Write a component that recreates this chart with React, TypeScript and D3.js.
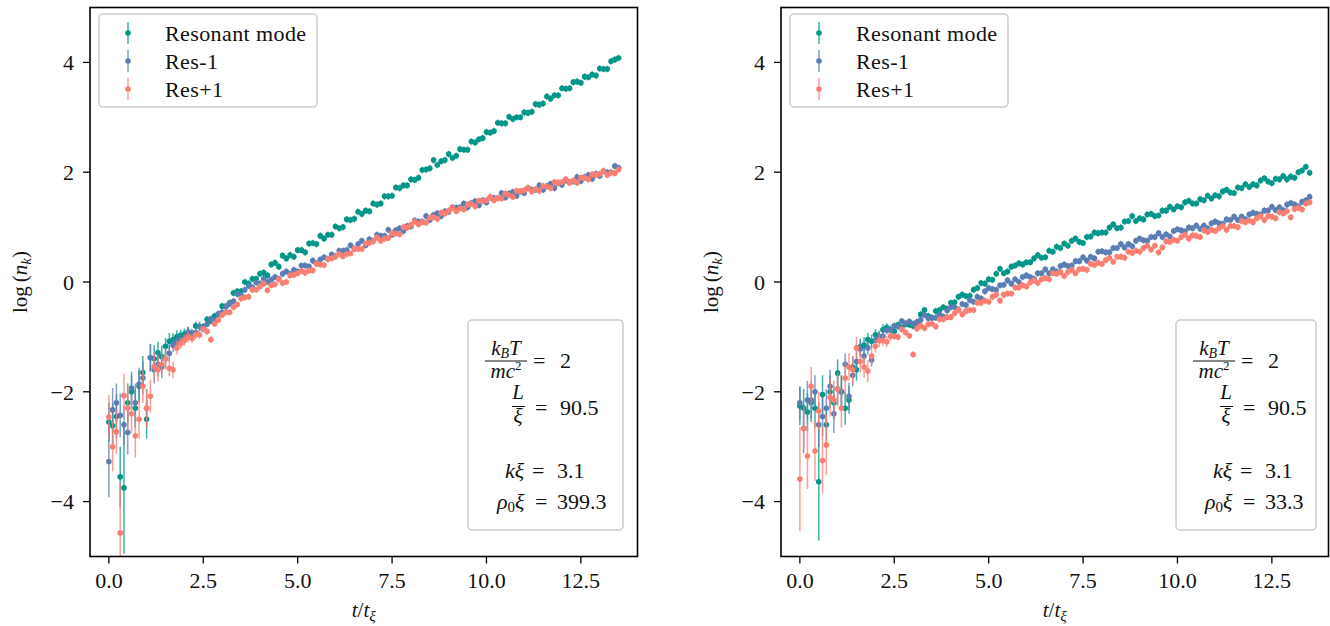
import React from "react";
import * as d3 from "d3";

// ---------- data ----------
const T_STEP = 0.1;
const N_POINTS = 136;
const TIMES: number[] = d3.range(N_POINTS).map((i) => +(i * T_STEP).toFixed(1));

const X_TICKS = [0, 2.5, 5, 7.5, 10, 12.5];
const Y_TICKS = [-4, -2, 0, 2, 4];
const X_DOMAIN = [-0.5, 14];
const Y_DOMAIN = [-5, 5];

const SERIES_NAMES = ["Resonant mode", "Res-1", "Res+1"];
const COLORS = ["#009688", "#5a7db4", "#fa7f72"];

// Left panel (rho0 xi = 399.3)
const LEFT_RES = [
  -2.55, -2.62, -2.45, -3.55, -3.75, -2.2, -2.0, -2.3, -1.9, -1.65,
  -2.5, -1.38, -1.4, -1.29, -1.36, -1.17, -1.08, -1.05, -1.0, -0.97,
  -0.95, -0.92, -0.95, -0.8, -0.81, -0.81, -0.68, -0.71, -0.62, -0.59,
  -0.44, -0.45, -0.38, -0.2, -0.17, -0.17, 0.0, -0.03, 0.06, 0.06,
  0.15, 0.17, 0.12, 0.32, 0.35, 0.28, 0.48, 0.43, 0.49, 0.46,
  0.58, 0.58, 0.54, 0.7, 0.71, 0.69, 0.84, 0.79, 0.86, 0.86,
  1.01, 0.98, 1.0, 1.14, 1.13, 1.15, 1.28, 1.24, 1.3, 1.29,
  1.43, 1.41, 1.43, 1.56, 1.56, 1.57, 1.72, 1.71, 1.76, 1.76,
  1.87, 1.86, 1.9, 2.04, 2.05, 2.07, 2.22, 2.13, 2.2, 2.22,
  2.33, 2.26, 2.3, 2.42, 2.41, 2.41, 2.56, 2.54, 2.6, 2.62,
  2.73, 2.72, 2.75, 2.9, 2.89, 2.89, 3.01, 2.97, 3.0, 3.0,
  3.09, 3.08, 3.1, 3.24, 3.23, 3.25, 3.38, 3.34, 3.4, 3.4,
  3.53, 3.52, 3.53, 3.64, 3.65, 3.63, 3.74, 3.73, 3.78, 3.76,
  3.89, 3.88, 3.88, 4.02, 4.05, 4.08,
];
const LEFT_M1 = [
  -3.27, -2.33, -2.2, -2.43, -2.6, -2.74, -1.93, -2.2, -1.86, -1.75,
  -2.3, -1.38, -1.6, -1.5, -1.55, -1.4, -1.3, -1.15, -1.1, -1.05,
  -1.03, -0.91, -0.93, -0.92, -0.81, -0.86, -0.77, -0.67, -0.7, -0.58,
  -0.55, -0.44, -0.4, -0.35, -0.22, -0.24, -0.14, -0.07, -0.1, -0.01,
  -0.03, 0.06, 0.0, 0.04, 0.09, 0.06, 0.15, 0.19, 0.15, 0.22,
  0.19, 0.3, 0.3, 0.28, 0.39, 0.34, 0.41, 0.45, 0.42, 0.5,
  0.47, 0.57, 0.57, 0.58, 0.67, 0.6, 0.69, 0.75, 0.67, 0.78,
  0.75, 0.86, 0.84, 0.84, 0.95, 0.86, 0.94, 0.98, 0.93, 1.02,
  1.01, 1.12, 1.1, 1.1, 1.2, 1.13, 1.22, 1.25, 1.2, 1.29,
  1.28, 1.36, 1.35, 1.36, 1.43, 1.36, 1.44, 1.47, 1.4, 1.49,
  1.45, 1.54, 1.53, 1.53, 1.62, 1.54, 1.61, 1.64, 1.57, 1.65,
  1.62, 1.71, 1.68, 1.68, 1.76, 1.68, 1.75, 1.79, 1.71, 1.8,
  1.77, 1.85, 1.82, 1.83, 1.91, 1.84, 1.91, 1.95, 1.88, 1.97,
  1.93, 2.02, 2.0, 2.0, 2.11, 2.08,
];
const LEFT_P1 = [
  -2.46, -3.0, -2.73, -4.57, -2.07, -2.3, -2.4, -2.8, -2.5, -1.9,
  -2.3, -2.08, -1.54, -1.6, -1.5, -1.4, -1.57, -1.6, -1.2, -1.12,
  -1.06, -1.0, -1.03, -0.96, -0.96, -0.85, -0.9, -1.05, -0.76, -0.69,
  -0.6, -0.55, -0.55, -0.46, -0.41, -0.3, -0.28, -0.27, -0.14, -0.14,
  -0.08, -0.03, -0.15, -0.06, -0.04, 0.05, -0.02, 0.0, 0.12, 0.13,
  0.16, 0.2, 0.17, 0.21, 0.21, 0.33, 0.32, 0.31, 0.42, 0.43,
  0.46, 0.51, 0.47, 0.51, 0.52, 0.61, 0.6, 0.6, 0.7, 0.71,
  0.74, 0.81, 0.75, 0.79, 0.8, 0.89, 0.88, 0.87, 1.0, 0.99,
  1.04, 1.1, 1.05, 1.09, 1.08, 1.17, 1.18, 1.15, 1.26, 1.25,
  1.3, 1.35, 1.29, 1.34, 1.32, 1.41, 1.42, 1.38, 1.48, 1.47,
  1.49, 1.55, 1.49, 1.53, 1.52, 1.61, 1.58, 1.55, 1.66, 1.65,
  1.67, 1.71, 1.65, 1.69, 1.66, 1.75, 1.74, 1.71, 1.82, 1.81,
  1.82, 1.87, 1.81, 1.85, 1.81, 1.9, 1.9, 1.87, 1.96, 1.95,
  1.97, 2.02, 1.95, 1.99, 1.98, 2.05,
];

// Right panel (rho0 xi = 33.3)
const RIGHT_RES = [
  -2.26, -2.3, -2.37, -2.2, -2.3, -3.64, -2.05, -2.6, -2.0, -2.2,
  -1.66, -2.0, -2.3, -2.15, -1.55, -1.6, -1.18, -1.15, -1.05, -1.08,
  -0.96, -0.99, -0.87, -0.83, -0.87, -0.9, -0.78, -0.83, -0.77, -0.78,
  -0.8, -0.74, -0.59, -0.51, -0.62, -0.65, -0.53, -0.51, -0.46, -0.49,
  -0.38, -0.37, -0.27, -0.23, -0.26, -0.25, -0.14, -0.11, -0.02, -0.03,
  0.05, 0.04, 0.15, 0.24, 0.16, 0.19, 0.28, 0.3, 0.34, 0.32,
  0.36, 0.36, 0.43, 0.49, 0.44, 0.45, 0.57, 0.55, 0.64, 0.62,
  0.7, 0.66, 0.75, 0.79, 0.73, 0.71, 0.82, 0.83, 0.9, 0.89,
  0.9, 0.9, 0.99, 1.05, 0.98, 0.99, 1.1, 1.11, 1.2, 1.11,
  1.16, 1.14, 1.23, 1.24, 1.2, 1.21, 1.3, 1.3, 1.37, 1.32,
  1.38, 1.36, 1.45, 1.48, 1.43, 1.43, 1.51, 1.49, 1.57, 1.52,
  1.58, 1.56, 1.65, 1.68, 1.63, 1.62, 1.72, 1.71, 1.78, 1.73,
  1.78, 1.76, 1.85, 1.89, 1.83, 1.8, 1.88, 1.87, 1.93, 1.87,
  1.92, 1.9, 2.0, 2.03, 2.1, 1.99,
];
const RIGHT_M1 = [
  -2.2, -2.67, -2.15, -2.15, -2.0, -2.6, -2.45, -2.3, -1.9, -2.4,
  -1.95, -2.0, -1.5, -2.08, -1.7, -1.45, -1.22, -1.35, -1.2, -1.42,
  -1.06, -1.01, -0.99, -0.88, -0.88, -0.8, -0.81, -0.71, -0.75, -0.72,
  -0.76, -0.73, -0.69, -0.6, -0.66, -0.65, -0.65, -0.59, -0.63, -0.52,
  -0.46, -0.46, -0.5, -0.4, -0.42, -0.33, -0.36, -0.27, -0.3, -0.17,
  -0.11, -0.13, -0.14, -0.06, -0.05, 0.03, -0.03, 0.05, 0.0, 0.09,
  0.12, 0.09, 0.06, 0.16, 0.16, 0.23, 0.16, 0.23, 0.19, 0.29,
  0.32, 0.29, 0.3, 0.38, 0.38, 0.45, 0.39, 0.46, 0.43, 0.55,
  0.56, 0.54, 0.54, 0.62, 0.62, 0.69, 0.63, 0.69, 0.65, 0.75,
  0.79, 0.76, 0.75, 0.82, 0.82, 0.89, 0.82, 0.87, 0.83, 0.93,
  0.96, 0.94, 0.92, 0.99, 0.98, 1.03, 0.97, 1.03, 0.98, 1.07,
  1.1, 1.07, 1.06, 1.14, 1.13, 1.19, 1.13, 1.19, 1.14, 1.23,
  1.26, 1.24, 1.23, 1.3, 1.3, 1.37, 1.31, 1.36, 1.31, 1.41,
  1.44, 1.41, 1.38, 1.46, 1.49, 1.55,
];
const RIGHT_P1 = [
  -3.59, -2.67, -3.17, -1.9, -3.08, -2.35, -3.25, -2.97, -2.1, -2.15,
  -1.95, -2.3, -1.75, -1.55, -1.6, -1.2, -1.45, -1.55, -1.62, -1.35,
  -1.17, -1.07, -1.07, -1.09, -0.99, -0.99, -1.0, -0.86, -0.92, -0.98,
  -1.32, -0.85, -0.8, -0.84, -0.77, -0.76, -0.81, -0.68, -0.68, -0.64,
  -0.64, -0.57, -0.51, -0.59, -0.53, -0.51, -0.51, -0.38, -0.38, -0.34,
  -0.36, -0.27, -0.23, -0.34, -0.23, -0.21, -0.21, -0.1, -0.1, -0.06,
  -0.08, -0.01, 0.03, -0.02, 0.05, 0.07, 0.05, 0.16, 0.15, 0.18,
  0.11, 0.18, 0.22, 0.16, 0.23, 0.24, 0.22, 0.33, 0.31, 0.35,
  0.33, 0.4, 0.44, 0.37, 0.46, 0.46, 0.44, 0.55, 0.53, 0.57,
  0.55, 0.62, 0.66, 0.59, 0.66, 0.54, 0.63, 0.74, 0.73, 0.77,
  0.75, 0.82, 0.86, 0.79, 0.85, 0.84, 0.82, 0.94, 0.91, 0.95,
  0.93, 0.98, 1.02, 0.95, 1.02, 1.02, 1.0, 1.11, 1.09, 1.12,
  1.09, 1.16, 1.2, 1.13, 1.2, 1.19, 1.16, 1.27, 1.25, 1.29,
  1.18, 1.33, 1.35, 1.32, 1.43, 1.45,
];

// error bars for the first 25 samples (t = 0 .. 2.4); later samples share LATE_ERR
const LEFT_RES_ERR = [0.35, 0.4, 0.4, 0.55, 1.2, 0.35, 0.3, 0.35, 0.3, 0.3, 0.35, 0.25, 0.25, 0.2, 0.2, 0.15, 0.15, 0.12, 0.12, 0.1, 0.1, 0.1, 0.08, 0.08, 0.08];
const LEFT_M1_ERR = [0.65, 0.4, 0.35, 0.4, 0.35, 0.4, 0.3, 0.35, 0.3, 0.3, 0.35, 0.25, 0.25, 0.22, 0.2, 0.15, 0.15, 0.12, 0.12, 0.1, 0.1, 0.1, 0.08, 0.08, 0.08];
const LEFT_P1_ERR = [0.4, 0.45, 0.4, 0.9, 0.4, 0.4, 0.35, 0.4, 0.35, 0.3, 0.35, 0.3, 0.25, 0.22, 0.2, 0.2, 0.15, 0.15, 0.12, 0.1, 0.1, 0.1, 0.08, 0.08, 0.08];
const RIGHT_RES_ERR = [0.35, 0.35, 0.35, 0.35, 0.35, 1.07, 0.35, 0.35, 0.3, 0.3, 0.25, 0.3, 0.3, 0.25, 0.2, 0.2, 0.15, 0.15, 0.12, 0.12, 0.1, 0.1, 0.1, 0.08, 0.08];
const RIGHT_M1_ERR = [0.3, 0.45, 0.35, 0.35, 0.3, 0.4, 0.35, 0.35, 0.3, 0.35, 0.3, 0.3, 0.2, 0.25, 0.2, 0.2, 0.15, 0.15, 0.12, 0.12, 0.1, 0.1, 0.1, 0.08, 0.08];
const RIGHT_P1_ERR = [0.95, 0.4, 0.6, 0.35, 0.55, 0.35, 0.6, 0.55, 0.35, 0.35, 0.3, 0.35, 0.3, 0.25, 0.25, 0.2, 0.2, 0.2, 0.2, 0.15, 0.12, 0.12, 0.1, 0.1, 0.08];
const LATE_ERR = 0.06;

const PANEL_PARAMS = [
  { kT: "2", L: "90.5", k: "3.1", rho: "399.3" },
  { kT: "2", L: "90.5", k: "3.1", rho: "33.3" },
];

// ---------- layout ----------
const FONT = "'Liberation Serif', 'DejaVu Serif', serif";
const PLOT_LEFTS = [90, 781];
const PLOT_TOP = 7.5;
const PLOT_W = 547.5;
const PLOT_H = 549;

type Series = { values: number[]; errs: number[]; color: string; name: string };

function errAt(errs: number[], i: number) {
  return i < errs.length ? errs[i] : LATE_ERR;
}

function Annotation({ x, w, p }: { x: number; w: number; p: (typeof PANEL_PARAMS)[0] }) {
  const cx = x + 17;
  return (
    <g fontFamily={FONT} fontSize={22} fill="#111">
      <rect x={x} y={320} width={w} height={210} rx={4} fill="#fff" fillOpacity={0.85} stroke="#cccccc" strokeWidth={1.5} />
      {/* k_B T / m c^2 = 2 */}
      <text x={cx + 21} y={355} textAnchor="middle" fontSize={21}>
        <tspan fontStyle="italic">k</tspan>
        <tspan fontStyle="italic" fontSize={14} dy={3}>B</tspan>
        <tspan fontStyle="italic" dy={-3}>T</tspan>
      </text>
      <line x1={cx} x2={cx + 42} y1={361} y2={361} stroke="#111" strokeWidth={1} />
      <text x={cx + 21} y={378} textAnchor="middle" fontSize={21}>
        <tspan fontStyle="italic">mc</tspan>
        <tspan fontSize={13} dy={-8}>2</tspan>
      </text>
      <text x={cx + 48} y={368}>=</text>
      <text x={cx + 75} y={368}>{p.kT}</text>
      {/* L / xi = 90.5 */}
      <text x={cx + 33} y={399} textAnchor="middle" fontStyle="italic" fontSize={21}>L</text>
      <line x1={cx + 27} x2={cx + 40} y1={406.5} y2={406.5} stroke="#111" strokeWidth={1} />
      <text x={cx + 33} y={423} textAnchor="middle" fontStyle="italic" fontSize={21}>ξ</text>
      <text x={cx + 50} y={415}>=</text>
      <text x={cx + 75} y={415}>{p.L}</text>
      {/* k xi = 3.1 */}
      <text x={cx + 20} y={478} fontStyle="italic">kξ</text>
      <text x={cx + 47} y={478}>=</text>
      <text x={cx + 72} y={478}>{p.k}</text>
      {/* rho0 xi */}
      <text x={cx + 12} y={509}>
        <tspan fontStyle="italic">ρ</tspan>
        <tspan fontSize={15} dy={3}>0</tspan>
        <tspan fontStyle="italic" dy={-3}>ξ</tspan>
      </text>
      <text x={cx + 50} y={509}>=</text>
      <text x={cx + 72} y={509}>{p.rho}</text>
    </g>
  );
}

function Panel({ idx, series }: { idx: number; series: Series[] }) {
  const x0 = PLOT_LEFTS[idx];
  const x = d3.scaleLinear().domain(X_DOMAIN).range([x0, x0 + PLOT_W]);
  const y = d3.scaleLinear().domain(Y_DOMAIN).range([PLOT_TOP + PLOT_H, PLOT_TOP]);
  const fx = d3.format(".1f");
  const fy = d3.format("d");
  const clipId = `clip-${idx}`;
  const annoW = idx === 0 ? 155 : 140;
  const annoX = idx === 0 ? 468 : 1176;
  return (
    <g>
      <defs>
        <clipPath id={clipId}>
          <rect x={x0} y={PLOT_TOP} width={PLOT_W} height={PLOT_H} />
        </clipPath>
      </defs>
      <g clipPath={`url(#${clipId})`}>
        {series.map((s, si) => (
          <g key={si}>
            {s.values.map((v, i) => {
              const e = errAt(s.errs, i);
              return (
                <line
                  key={"e" + i}
                  x1={x(TIMES[i])}
                  x2={x(TIMES[i])}
                  y1={y(v - e)}
                  y2={y(v + e)}
                  stroke={s.color}
                  strokeOpacity={0.75}
                  strokeWidth={1.5}
                />
              );
            })}
            {s.values.map((v, i) => (
              <circle key={"c" + i} cx={x(TIMES[i])} cy={y(v)} r={2.8} fill={s.color} />
            ))}
          </g>
        ))}
      </g>
      {/* frame */}
      <rect x={x0} y={PLOT_TOP} width={PLOT_W} height={PLOT_H} fill="none" stroke="#000" strokeWidth={1.6} />
      {/* x ticks */}
      {X_TICKS.map((t) => (
        <g key={"xt" + t}>
          <line x1={x(t)} x2={x(t)} y1={PLOT_TOP + PLOT_H} y2={PLOT_TOP + PLOT_H + 7} stroke="#000" strokeWidth={1.3} />
          <text x={x(t)} y={588} textAnchor="middle" fontFamily={FONT} fontSize={22} fill="#111">
            {fx(t)}
          </text>
        </g>
      ))}
      {/* y ticks */}
      {Y_TICKS.map((t) => (
        <g key={"yt" + t}>
          <line x1={x0 - 7} x2={x0} y1={y(t)} y2={y(t)} stroke="#000" strokeWidth={1.3} />
          <text x={x0 - 16} y={y(t)} dy="0.35em" textAnchor="end" fontFamily={FONT} fontSize={22} fill="#111">
            {fy(t)}
          </text>
        </g>
      ))}
      {/* axis labels */}
      <text x={x0 + PLOT_W / 2} y={617} textAnchor="middle" fontFamily={FONT} fontSize={21} fill="#111">
        <tspan fontStyle="italic">t</tspan>
        <tspan>/</tspan>
        <tspan fontStyle="italic">t</tspan>
        <tspan fontStyle="italic" fontSize={15} dy={4}>ξ</tspan>
      </text>
      <text
        transform={`translate(${x0 - 63},${y(0)}) rotate(-90)`}
        textAnchor="middle"
        fontFamily={FONT}
        fontSize={21}
        fill="#111"
      >
        <tspan>log</tspan>
        <tspan dx={4}>(</tspan>
        <tspan fontStyle="italic">n</tspan>
        <tspan fontStyle="italic" fontSize={15} dy={4}>k</tspan>
        <tspan dy={-4}>)</tspan>
      </text>
      {/* legend */}
      <g fontFamily={FONT} fontSize={22} fill="#111">
        <rect x={x0 + 9} y={14} width={218} height={93} rx={4} fill="#fff" fillOpacity={0.85} stroke="#cccccc" strokeWidth={1.5} />
        {series.map((s, si) => {
          const ly = 33 + si * 28;
          return (
            <g key={"lg" + si}>
              <line x1={x0 + 38} x2={x0 + 38} y1={ly - 11} y2={ly + 11} stroke={s.color} strokeOpacity={0.75} strokeWidth={1.5} />
              <circle cx={x0 + 38} cy={ly} r={2.8} fill={s.color} />
              <text x={x0 + 75} y={ly} dy="0.35em" letterSpacing={0.4}>
                {s.name}
              </text>
            </g>
          );
        })}
      </g>
      <Annotation x={annoX} w={annoW} p={PANEL_PARAMS[idx]} />
    </g>
  );
}

export default function App() {
  const left: Series[] = [
    { values: LEFT_RES, errs: LEFT_RES_ERR, color: COLORS[0], name: SERIES_NAMES[0] },
    { values: LEFT_M1, errs: LEFT_M1_ERR, color: COLORS[1], name: SERIES_NAMES[1] },
    { values: LEFT_P1, errs: LEFT_P1_ERR, color: COLORS[2], name: SERIES_NAMES[2] },
  ];
  const right: Series[] = [
    { values: RIGHT_RES, errs: RIGHT_RES_ERR, color: COLORS[0], name: SERIES_NAMES[0] },
    { values: RIGHT_M1, errs: RIGHT_M1_ERR, color: COLORS[1], name: SERIES_NAMES[1] },
    { values: RIGHT_P1, errs: RIGHT_P1_ERR, color: COLORS[2], name: SERIES_NAMES[2] },
  ];
  return (
    <svg width={1330} height={626} style={{ position: "absolute", left: 0, top: 0, background: "#fff" }}>
      <rect width={1330} height={626} fill="#fff" />
      <Panel idx={0} series={left} />
      <Panel idx={1} series={right} />
    </svg>
  );
}
